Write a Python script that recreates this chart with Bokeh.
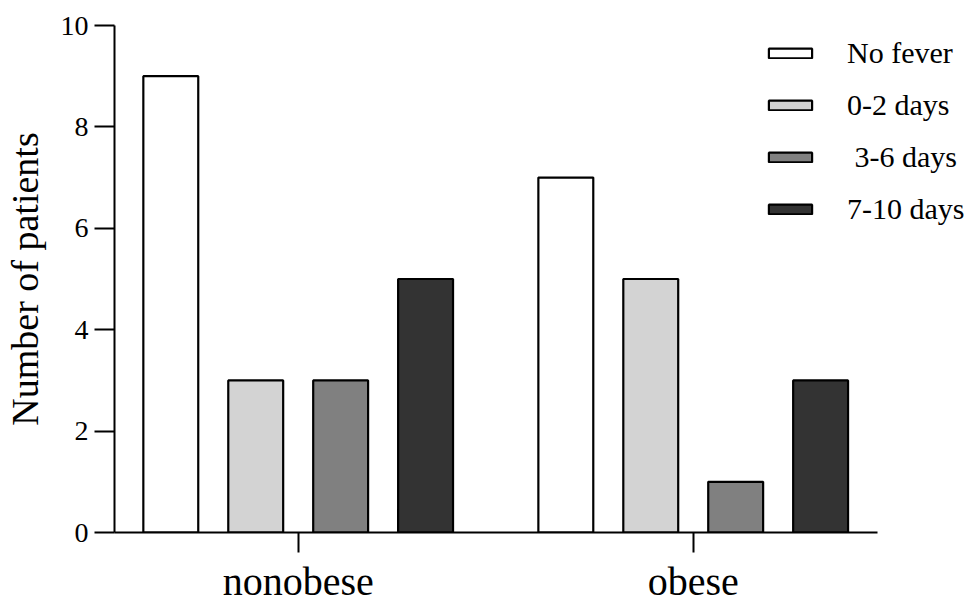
from bokeh.plotting import figure
from bokeh.models import FixedTicker, Legend, LegendItem, Range1d, ColumnDataSource
from bokeh.embed import file_html
from bokeh.resources import INLINE

groups = ["nonobese", "obese"]
series = ["No fever", "0-2 days", " 3-6 days", "7-10 days"]
no_fever = [9, 7]
days_0_2 = [3, 5]
days_3_6 = [3, 1]
days_7_10 = [5, 3]
y_ticks = [0, 2, 4, 6, 8, 10]

values = [no_fever, days_0_2, days_3_6, days_7_10]
colors = ["#ffffff", "#d3d3d3", "#808080", "#333333"]
FONT = "Liberation Serif"

step = 0.215
bar_w = 0.139
offsets = [(-1.5 + k) * step for k in range(4)]

p = figure(width=974, height=611, output_backend="svg", toolbar_location=None,
           x_range=Range1d(-0.465, 1.707), y_range=Range1d(0, 10),
           min_border_left=114, min_border_right=2, min_border_top=25, min_border_bottom=79)
p.outline_line_color = None
p.xgrid.visible = False
p.ygrid.visible = False

items = []
for vals, name, col, off in zip(values, series, colors, offsets):
    src = ColumnDataSource(dict(x=[i + off for i in range(len(groups))], top=vals))
    r = p.vbar(x="x", top="top", width=bar_w, bottom=0, source=src,
               fill_color=col, line_color="black", line_width=2.2)
    items.append(LegendItem(label=name, renderers=[r]))

legend = Legend(items=items, location=(649, 306), padding=0, margin=0,
                border_line_color=None, background_fill_alpha=0,
                glyph_width=54, glyph_height=12, label_height=34, spacing=18,
                label_standoff=30, label_text_font=FONT, label_text_font_size="30px",
                label_text_color="black")
p.add_layout(legend)

xa = p.xaxis[0]
xa.ticker = FixedTicker(ticks=list(range(len(groups))))
xa.major_label_overrides = {i: g for i, g in enumerate(groups)}
xa.bounds = (-0.465, 1.466)
ya = p.yaxis[0]
ya.ticker = FixedTicker(ticks=y_ticks)
ya.axis_label = "Number of patients"

for ax in (xa, ya):
    ax.axis_line_width = 2
    ax.axis_line_color = "black"
    ax.major_tick_line_width = 2
    ax.major_tick_line_color = "black"
    ax.major_tick_out = 20
    ax.major_tick_in = 0
    ax.minor_tick_line_color = None
    ax.major_label_text_font = FONT
    ax.major_label_text_color = "black"
    ax.axis_label_text_font = FONT
    ax.axis_label_text_font_style = "normal"
    ax.axis_label_text_color = "black"

xa.major_label_text_font_size = "40px"
xa.major_label_standoff = 6
ya.major_label_text_font_size = "28px"
ya.major_label_standoff = 6
ya.axis_label_text_font_size = "38px"
ya.axis_label_standoff = 12

open("out.html", "w").write(file_html(p, INLINE))
